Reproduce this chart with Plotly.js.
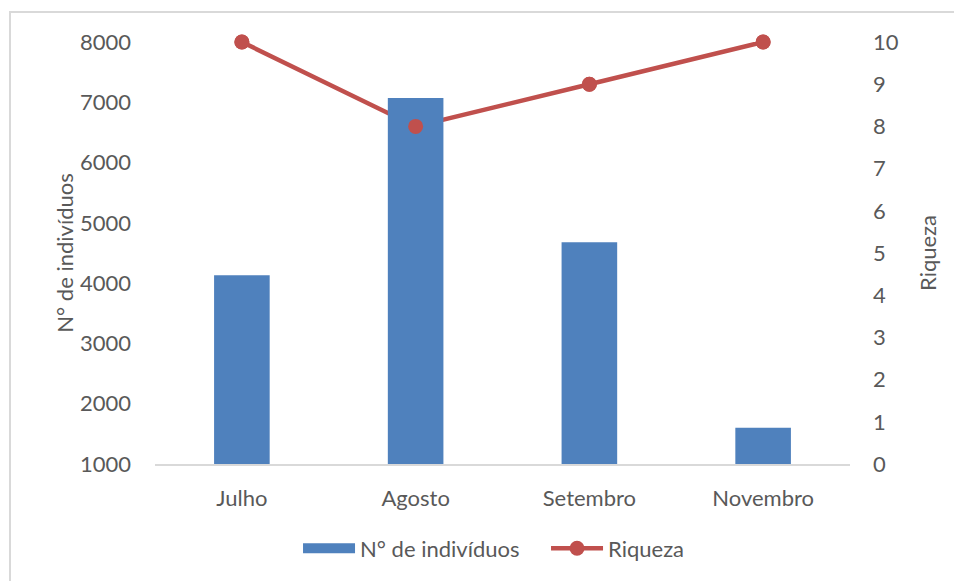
<!DOCTYPE html>
<html>
<head>
<meta charset="utf-8">
<script src="https://cdn.plot.ly/plotly-3.0.1.min.js"></script>
<style>
  html, body { margin: 0; padding: 0; background: #ffffff; }
  #chart { width: 954px; height: 581px; }
</style>
</head>
<body>
<div id="chart"></div>
<script>
// Monthly sampling: number of individuals (bars) and species richness (line)
const months = ["Julho", "Agosto", "Setembro", "Novembro"];
const individuos = [4130, 7070, 4680, 1600];
const riqueza = [10, 8, 9, 10];

const leftTicks = [1000, 2000, 3000, 4000, 5000, 6000, 7000, 8000];
const rightTicks = [0, 1, 2, 3, 4, 5, 6, 7, 8, 9, 10];

const textColor = "#595959";
const barColor = "#4f81bd";
const lineColor = "#c0504d";
const fontFamily = "Lato, 'Open Sans', sans-serif";

const traces = [
  {
    // richness line, drawn beneath the bars
    type: "scatter",
    mode: "lines+markers",
    name: "Riqueza",
    x: months,
    y: riqueza,
    yaxis: "y",
    cliponaxis: false,
    line: { color: lineColor, width: 4.5 },
    marker: { color: lineColor, size: 15 },
    legendrank: 2
  },
  {
    type: "bar",
    name: "N° de indivíduos",
    x: months,
    y: individuos,
    yaxis: "y2",
    width: 0.32,
    marker: { color: barColor },
    showlegend: false
  },
  {
    // legend key for the bars: a wide flat swatch (no plotted points)
    type: "scatter",
    mode: "lines",
    name: "N° de indivíduos",
    x: [months[0]],
    y: [null],
    yaxis: "y2",
    line: { color: barColor, width: 13 },
    legendrank: 1,
    hoverinfo: "skip"
  },
  {
    // richness markers kept above the bars
    type: "scatter",
    mode: "markers",
    name: "Riqueza",
    x: months,
    y: riqueza,
    yaxis: "y3",
    cliponaxis: false,
    marker: { color: lineColor, size: 15 },
    showlegend: false,
    hoverinfo: "skip"
  }
];

const layout = {
  width: 954,
  height: 581,
  margin: { l: 155, r: 104, t: 42, b: 117 },
  paper_bgcolor: "#ffffff",
  plot_bgcolor: "rgba(0,0,0,0)",
  font: { family: fontFamily, size: 22, color: textColor },
  showlegend: true,
  legend: {
    orientation: "h",
    x: 0.2058,
    xanchor: "left",
    y: -0.2,
    yanchor: "middle",
    font: { family: fontFamily, size: 22, color: textColor },
    itemwidth: 52,
    entrywidth: 181,
    entrywidthmode: "pixels",
    bgcolor: "rgba(0,0,0,0)"
  },
  xaxis: {
    type: "category",
    showgrid: false,
    zeroline: false,
    showline: true,
    linecolor: "#d9d9d9",
    linewidth: 2,
    ticks: "",
    ticklabelstandoff: 14,
    tickfont: { family: fontFamily, size: 22, color: textColor },
    fixedrange: true
  },
  yaxis: {
    side: "right",
    range: [0, 10],
    tickmode: "array",
    tickvals: rightTicks,
    ticktext: rightTicks.map(String),
    showgrid: false,
    zeroline: false,
    showline: false,
    ticks: "",
    ticklabelstandoff: 22,
    tickfont: { family: fontFamily, size: 22, color: textColor },
    title: { text: "Riqueza", font: { family: fontFamily, size: 22, color: textColor }, standoff: 22 },
    fixedrange: true
  },
  yaxis2: {
    overlaying: "y",
    side: "left",
    range: [1000, 8000],
    tickmode: "array",
    tickvals: leftTicks,
    ticktext: leftTicks.map(String),
    showgrid: false,
    zeroline: false,
    showline: false,
    ticks: "",
    ticklabelstandoff: 23,
    tickfont: { family: fontFamily, size: 22, color: textColor },
    title: { text: "N° de indivíduos", font: { family: fontFamily, size: 22, color: textColor }, standoff: 0 },
    fixedrange: true
  },
  yaxis3: {
    overlaying: "y",
    side: "right",
    range: [0, 10],
    visible: false,
    fixedrange: true
  },
  shapes: [
    {
      // outer chart frame
      type: "rect",
      xref: "paper", yref: "paper",
      x0: -0.2086, x1: 1.25,
      y0: -0.35, y1: 1.071,
      line: { color: "#d9d9d9", width: 2 },
      fillcolor: "rgba(0,0,0,0)",
      layer: "below"
    }
  ]
};

Plotly.newPlot("chart", traces, layout, { displayModeBar: false, staticPlot: true });
</script>
</body>
</html>
